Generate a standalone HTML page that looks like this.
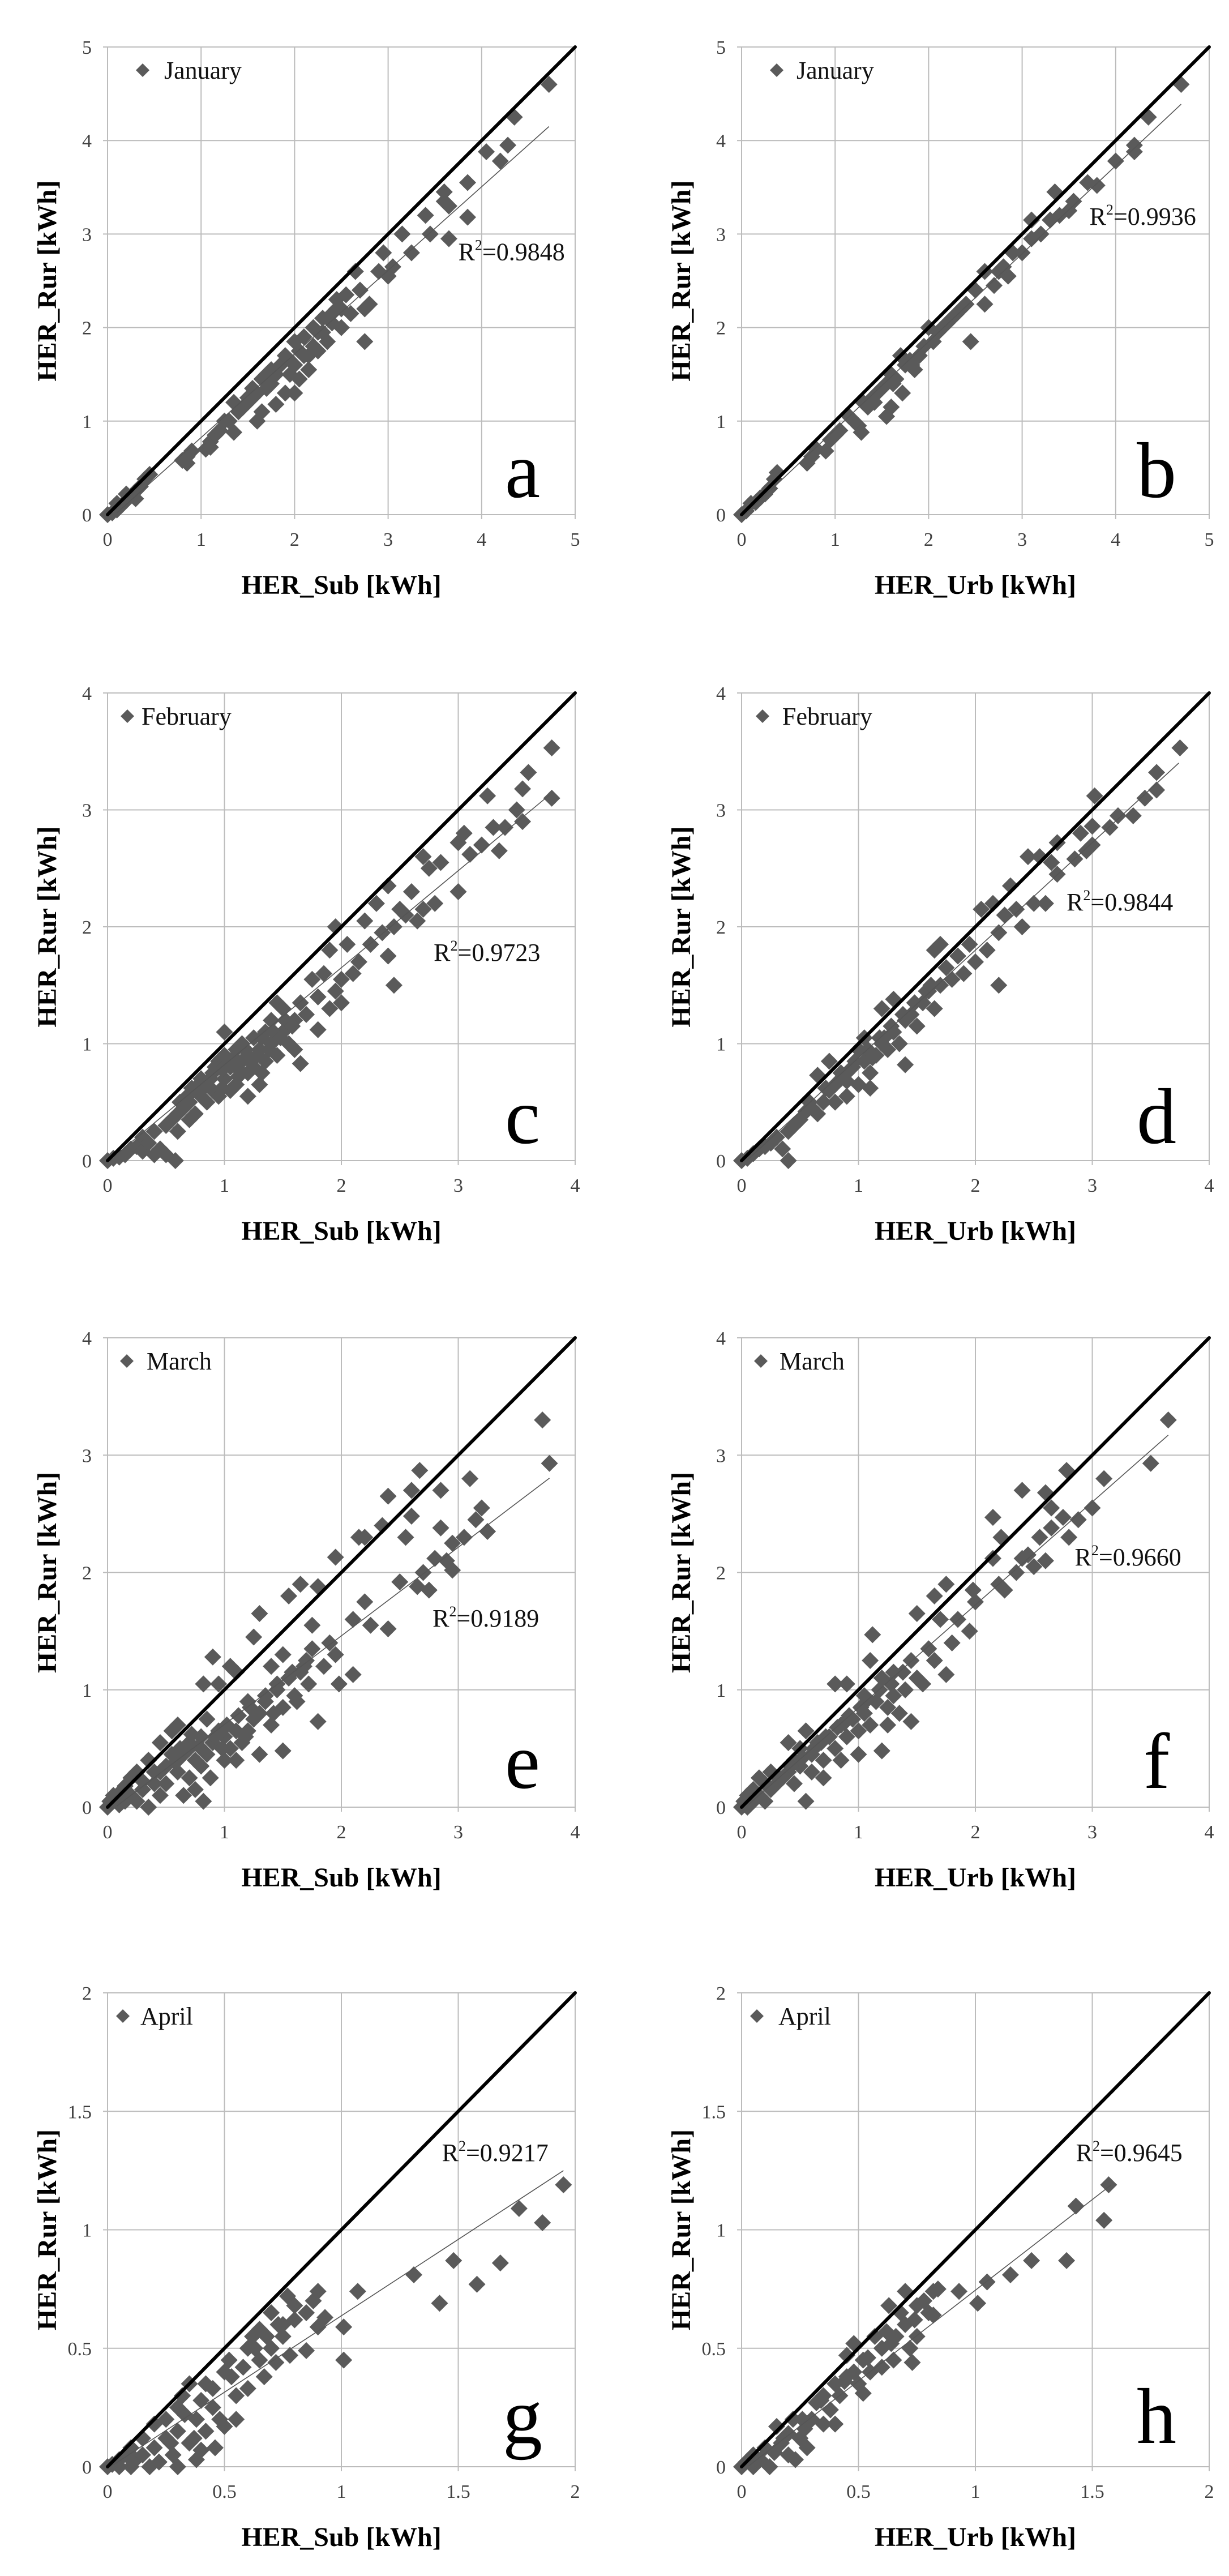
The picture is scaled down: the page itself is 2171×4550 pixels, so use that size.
<!DOCTYPE html>
<html><head><meta charset="utf-8">
<style>
html,body{margin:0;padding:0;background:#fff;}
svg{display:block;}
text{font-family:"Liberation Serif",serif;}
</style></head>
<body>
<svg id="fig" width="2171" height="4550" viewBox="0 0 2171 4550" xmlns="http://www.w3.org/2000/svg" font-family="Liberation Serif, serif"></svg>
<script>
// ---- data (x, y pairs in kWh) ----
const janSubX=[0,0.05,0.1,0.15,0.2,0.25,0.3,0.35,0.4,0.45,0.2,0.3,0.1,0.8,0.85,0.9,0.85,1.05,1.1,1.15,1.1,1.2,1.3,1.35,1.4,1.35,1.45,1.5,1.55,1.6,1.6,1.65,1.65,1.7,1.75,1.8,1.8,1.85,1.9,1.9,1.95,2.0,2.0,2.0,2.05,2.1,2.1,2.15,2.2,2.2,2.25,2.3,2.35,2.4,2.45,2.5,2.5,2.55,2.6,2.65,2.7,2.75,2.75,2.8,2.9,2.95,3.0,3.05,3.15,3.25,3.4,3.45,3.6,3.6,3.65,3.65,3.85,3.85,4.05,4.2,4.28,4.35,4.72,1.25,1.5,1.7,1.95,2.15,2.3,2.45,1.55,1.75,2.05,2.25,2.4];
const janSubY=[0,0.02,0.05,0.1,0.15,0.2,0.25,0.3,0.38,0.43,0.22,0.17,0.12,0.58,0.62,0.68,0.55,0.7,0.78,0.85,0.72,0.9,1.0,0.88,1.1,1.2,1.15,1.2,1.25,1.3,1.0,1.1,1.45,1.35,1.4,1.5,1.18,1.6,1.7,1.3,1.5,1.6,1.3,1.85,1.45,1.7,1.9,1.55,1.8,2.0,1.75,1.95,1.85,2.05,2.3,2.2,2.0,2.35,2.15,2.6,2.4,2.2,1.85,2.25,2.6,2.8,2.55,2.65,3.0,2.8,3.2,3.0,3.35,3.45,3.3,2.95,3.55,3.18,3.88,3.78,3.95,4.25,4.6,1.0,1.25,1.5,1.65,1.7,2.1,2.2,1.35,1.55,1.75,1.95,2.15];
const janUrbX=[0,0.05,0.1,0.15,0.2,0.25,0.3,0.35,0.38,0.7,0.75,0.8,0.9,0.95,1.0,1.05,1.15,1.2,1.25,1.28,1.3,1.35,1.4,1.45,1.5,1.55,1.55,1.6,1.6,1.65,1.7,1.72,1.75,1.8,1.85,1.9,1.95,2.0,2.05,2.1,2.15,2.2,2.3,2.35,2.4,2.45,2.5,2.6,2.6,2.7,2.75,2.85,2.9,3.0,3.1,3.1,3.2,3.3,3.35,3.4,3.5,3.55,3.7,3.8,4.0,4.2,4.2,4.35,4.7,1.42,1.62,1.82,2.25,2.8];
const janUrbY=[0,0.04,0.12,0.13,0.18,0.22,0.28,0.38,0.45,0.55,0.62,0.7,0.68,0.8,0.85,0.9,1.05,1.0,0.95,0.88,1.2,1.15,1.25,1.3,1.35,1.05,1.4,1.15,1.5,1.45,1.7,1.3,1.6,1.65,1.55,1.7,1.8,2.0,1.85,1.95,2.0,2.05,2.15,2.2,2.25,1.85,2.4,2.25,2.6,2.45,2.6,2.55,2.8,2.8,2.95,3.15,3.0,3.15,3.45,3.2,3.25,3.35,3.55,3.52,3.78,3.88,3.95,4.25,4.6,1.2,1.4,1.6,2.1,2.65];
const febSubX=[0,0.05,0.1,0.15,0.2,0.25,0.3,0.3,0.35,0.4,0.4,0.45,0.5,0.5,0.55,0.58,0.6,0.6,0.65,0.7,0.7,0.75,0.75,0.8,0.8,0.85,0.85,0.9,0.9,0.95,0.95,1.0,1.0,1.0,1.05,1.05,1.1,1.1,1.15,1.15,1.2,1.2,1.2,1.25,1.25,1.3,1.3,1.35,1.35,1.4,1.4,1.45,1.45,1.5,1.5,1.55,1.6,1.6,1.65,1.65,1.7,1.75,1.8,1.8,1.85,1.9,1.9,1.95,1.95,2.0,2.0,2.05,2.1,2.15,2.2,2.25,2.3,2.35,2.4,2.4,2.45,2.45,2.5,2.55,2.6,2.65,2.7,2.7,2.75,2.8,2.85,3.0,3.0,3.05,3.1,3.2,3.25,3.3,3.35,3.4,3.5,3.55,3.55,3.6,3.8,3.8,0.62,0.68,0.72,0.78,0.88,0.92,0.98,1.02,1.08,1.12,1.18,1.22,1.28,1.32,1.38,1.42,1.48,1.52,1.58,0.82,0.98,1.12,1.32];
const febSubY=[0,0.02,0.03,0.05,0.1,0.12,0.2,0.08,0.15,0.05,0.25,0.1,0.3,0.05,0.35,0.0,0.4,0.25,0.45,0.5,0.35,0.6,0.4,0.55,0.7,0.5,0.65,0.75,0.6,0.55,0.85,1.1,0.7,0.9,0.6,0.8,0.95,0.65,0.85,1.0,0.75,0.9,0.55,1.05,0.8,0.95,0.65,1.1,0.85,1.0,1.2,0.9,1.35,1.1,1.3,1.0,1.2,0.95,0.83,1.35,1.25,1.55,1.4,1.12,1.6,1.3,1.8,1.45,2.0,1.55,1.35,1.85,1.6,1.7,2.05,1.85,2.2,1.95,2.35,1.75,1.5,2.0,2.15,2.1,2.3,2.05,2.6,2.15,2.5,2.2,2.55,2.3,2.72,2.8,2.62,2.7,3.12,2.85,2.65,2.85,3.0,2.9,3.18,3.32,3.1,3.53,0.5,0.55,0.62,0.65,0.7,0.8,0.78,0.82,0.88,0.78,0.95,0.85,0.9,1.05,0.95,1.1,1.05,1.2,1.15,0.62,0.62,0.72,0.75];
const febUrbX=[0,0.05,0.1,0.15,0.2,0.25,0.3,0.35,0.4,0.4,0.45,0.5,0.55,0.6,0.65,0.65,0.7,0.75,0.75,0.8,0.8,0.85,0.9,0.9,0.95,1.0,1.0,1.05,1.05,1.1,1.1,1.15,1.2,1.2,1.25,1.3,1.3,1.35,1.4,1.4,1.45,1.5,1.55,1.6,1.65,1.65,1.7,1.7,1.75,1.8,1.85,1.9,1.95,2.0,2.05,2.1,2.15,2.2,2.2,2.25,2.3,2.35,2.4,2.45,2.5,2.55,2.6,2.65,2.7,2.7,2.85,2.9,2.95,3.0,3.0,3.02,3.15,3.22,3.35,3.45,3.55,3.55,3.75,0.58,0.72,0.85,0.97,1.08,1.18,1.28,1.38,1.48,1.58,1.62,0.9,1.12,1.22];
const febUrbY=[0,0.02,0.06,0.1,0.12,0.15,0.2,0.1,0.0,0.25,0.3,0.35,0.42,0.45,0.4,0.73,0.5,0.6,0.85,0.5,0.65,0.7,0.75,0.55,0.8,0.95,0.65,0.85,1.05,0.75,0.62,0.9,1.0,1.3,0.95,1.1,1.38,1.0,0.82,1.2,1.25,1.15,1.35,1.45,1.3,1.8,1.5,1.85,1.65,1.55,1.75,1.6,1.85,1.7,2.15,1.8,2.2,1.5,1.95,2.1,2.35,2.15,2.0,2.6,2.2,2.6,2.2,2.55,2.45,2.72,2.58,2.8,2.65,2.7,2.86,3.12,2.85,2.95,2.95,3.1,3.17,3.32,3.53,0.5,0.62,0.75,0.85,0.95,1.05,1.15,1.25,1.35,1.45,1.5,0.68,0.88,1.05];
const marSubX=[0,0.02,0.05,0.1,0.1,0.15,0.15,0.2,0.2,0.25,0.25,0.3,0.35,0.35,0.4,0.4,0.45,0.45,0.5,0.5,0.55,0.55,0.6,0.6,0.65,0.65,0.7,0.7,0.75,0.75,0.8,0.8,0.82,0.82,0.85,0.85,0.88,0.9,0.9,0.95,0.95,1.0,1.0,1.05,1.05,1.1,1.1,1.1,1.15,1.2,1.2,1.25,1.25,1.3,1.3,1.3,1.35,1.4,1.4,1.45,1.5,1.5,1.5,1.55,1.55,1.6,1.65,1.65,1.7,1.75,1.75,1.8,1.8,1.85,1.9,1.95,1.95,1.98,2.1,2.1,2.15,2.2,2.2,2.25,2.35,2.4,2.4,2.5,2.55,2.6,2.6,2.65,2.67,2.7,2.75,2.8,2.85,2.85,2.9,2.95,2.95,3.05,3.1,3.15,3.2,3.25,3.72,3.78,0.3,0.45,0.58,0.68,0.78,0.92,1.02,1.12,1.22,1.35,1.45,1.58,1.68,1.72,0.62,0.72,0.98,1.18,1.42,1.62];
const marSubY=[0,0.05,0.1,0.02,0.12,0.05,0.18,0.1,0.25,0.05,0.3,0.15,0.0,0.4,0.2,0.3,0.55,0.1,0.35,0.2,0.45,0.65,0.3,0.7,0.1,0.45,0.55,0.25,0.4,0.15,0.6,0.35,0.05,1.05,0.45,0.75,0.25,0.55,1.28,0.65,1.05,0.4,0.6,0.5,1.2,1.15,0.65,0.4,0.55,0.9,0.65,1.45,0.75,0.45,1.65,0.8,0.9,0.7,1.2,1.0,0.48,0.85,1.3,1.8,1.1,0.95,1.9,1.15,1.25,1.35,1.55,0.73,1.88,1.2,1.4,2.13,1.3,1.05,1.13,1.6,2.3,1.75,2.3,1.55,2.4,2.65,1.52,1.92,2.3,2.7,2.48,1.88,2.87,2.0,1.85,2.12,2.7,2.38,2.1,2.02,2.25,2.3,2.8,2.45,2.55,2.35,3.3,2.93,0.22,0.3,0.38,0.48,0.52,0.6,0.7,0.78,0.85,0.95,1.05,1.15,1.2,1.05,0.5,0.62,0.5,0.6,0.8,0.9];
const marUrbX=[0,0.02,0.05,0.05,0.1,0.1,0.15,0.15,0.2,0.2,0.25,0.25,0.3,0.35,0.4,0.4,0.45,0.45,0.5,0.5,0.55,0.55,0.6,0.6,0.65,0.7,0.7,0.75,0.8,0.8,0.85,0.85,0.9,0.9,0.95,1.0,1.0,1.05,1.05,1.1,1.1,1.12,1.15,1.2,1.2,1.25,1.25,1.3,1.3,1.35,1.4,1.45,1.45,1.5,1.5,1.55,1.6,1.65,1.65,1.7,1.75,1.75,1.8,1.85,1.95,1.98,2.0,2.15,2.15,2.2,2.22,2.25,2.35,2.4,2.4,2.45,2.5,2.55,2.6,2.6,2.65,2.65,2.75,2.78,2.8,2.88,3.0,3.1,3.5,3.65,0.32,0.42,0.52,0.62,0.72,0.82,0.92,1.02,1.08,1.18,1.28,1.38,0.68,0.88];
const marUrbY=[0,0.05,0.1,0.0,0.05,0.15,0.1,0.25,0.05,0.2,0.15,0.3,0.2,0.25,0.3,0.55,0.2,0.4,0.35,0.5,0.65,0.05,0.45,0.3,0.55,0.4,0.25,0.6,1.05,0.5,0.7,0.4,0.6,1.05,0.75,0.45,0.65,0.95,0.8,1.25,0.7,1.47,0.9,0.48,1.1,0.85,0.7,1.15,0.95,0.8,1.0,1.25,0.73,1.1,1.65,1.05,1.35,1.8,1.25,1.6,1.9,1.13,1.4,1.6,1.5,1.85,1.75,2.47,2.12,1.9,2.3,1.85,2.0,2.7,2.12,2.15,2.05,2.3,2.68,2.1,2.55,2.38,2.47,2.87,2.3,2.45,2.55,2.8,2.93,3.3,0.25,0.35,0.42,0.5,0.6,0.68,0.78,0.85,0.92,1.0,1.05,1.15,0.55,0.72];
const aprSubX=[0,0.02,0.05,0.05,0.08,0.1,0.1,0.12,0.15,0.15,0.18,0.2,0.2,0.22,0.25,0.25,0.28,0.3,0.3,0.3,0.32,0.35,0.35,0.38,0.38,0.4,0.4,0.42,0.45,0.45,0.46,0.48,0.5,0.5,0.52,0.55,0.55,0.58,0.6,0.6,0.62,0.65,0.65,0.67,0.7,0.7,0.72,0.75,0.75,0.77,0.78,0.8,0.85,0.85,0.88,0.9,0.9,0.93,1.01,1.01,1.07,1.31,1.42,1.48,1.58,1.68,1.76,1.86,1.95,0.33,0.42,0.53,0.63,0.68,0.73,0.8,0.27,0.37];
const aprSubY=[0,0.01,0.0,0.03,0.05,0.0,0.08,0.03,0.05,0.12,0.0,0.08,0.18,0.02,0.12,0.2,0.05,0.0,0.15,0.25,0.3,0.1,0.35,0.03,0.2,0.07,0.28,0.15,0.25,0.33,0.08,0.2,0.17,0.4,0.45,0.2,0.3,0.42,0.33,0.5,0.55,0.45,0.58,0.38,0.5,0.65,0.44,0.55,0.6,0.72,0.47,0.68,0.49,0.65,0.7,0.74,0.59,0.63,0.59,0.45,0.74,0.81,0.69,0.87,0.77,0.86,1.09,1.03,1.19,0.22,0.35,0.38,0.5,0.55,0.6,0.62,0.1,0.12];
const aprUrbX=[0,0.02,0.05,0.05,0.08,0.1,0.12,0.14,0.15,0.17,0.2,0.2,0.22,0.23,0.25,0.27,0.28,0.3,0.32,0.35,0.35,0.38,0.4,0.4,0.42,0.45,0.45,0.48,0.48,0.5,0.52,0.52,0.55,0.57,0.6,0.6,0.62,0.63,0.65,0.66,0.68,0.7,0.7,0.72,0.73,0.75,0.75,0.78,0.8,0.82,0.82,0.84,0.93,1.01,1.05,1.15,1.24,1.39,1.43,1.55,1.57,0.18,0.26,0.34,0.44,0.54,0.64,0.74];
const aprUrbY=[0,0.02,0.0,0.05,0.03,0.08,0.0,0.06,0.17,0.1,0.05,0.14,0.2,0.03,0.12,0.16,0.08,0.2,0.27,0.18,0.3,0.24,0.18,0.35,0.3,0.38,0.47,0.4,0.52,0.35,0.45,0.31,0.4,0.55,0.5,0.42,0.57,0.68,0.45,0.55,0.65,0.74,0.6,0.5,0.44,0.55,0.68,0.7,0.65,0.64,0.74,0.75,0.74,0.69,0.78,0.81,0.87,0.87,1.1,1.04,1.19,0.12,0.2,0.28,0.36,0.46,0.52,0.62];
// axis maxima, tick steps, fit (slope, intercept, x-start, x-end), R² labels
const axisMax=[5,5,4,4,4,4,2,2];
const tickStep=[1,1,1,1,1,1,0.5,0.5];
const fitSlope=[0.894,0.94,0.83,0.92,0.755,0.877,0.645,0.765];
const fitIntercept=[-0.07,-0.03,-0.01,-0.04,-0.05,-0.03,-0.008,-0.02];
const fitXStart=[0.1,0.04,0.08,0.05,0.08,0.06,0.025,0.03];
const fitXEnd=[4.72,4.7,3.78,3.74,3.78,3.65,1.95,1.58];
const r2Labels=["0.9848","0.9936","0.9723","0.9844","0.9189","0.9660","0.9217","0.9645"];
const r2LabelX=[3.75,3.72,2.79,2.78,2.78,2.85,1.43,1.43];
const r2LabelY=[2.72,3.1,1.71,2.14,1.54,2.06,1.29,1.29];
const months=["January","January","February","February","March","March","April","April"];
const panelLetters=["a","b","c","d","e","f","g","h"];
const xTitles=["HER_Sub [kWh]","HER_Urb [kWh]"];
const seriesX=[janSubX,janUrbX,febSubX,febUrbX,marSubX,marUrbX,aprSubX,aprUrbX];
const seriesY=[janSubY,janUrbY,febSubY,febUrbY,marSubY,marUrbY,aprSubY,aprUrbY];

// ---- layout ----
const NS="http://www.w3.org/2000/svg";
const svg=document.getElementById('fig');
const colLeft=[190,1310];
const rowTop=[83,1224,2363,3520];
const rowH=[826,826,829,837];
const plotW=826;
const FONT='Liberation Serif, serif';
const legendOff=[[62,100],[62,97],[35,60],[37,72],[34,69],[34,67],[27,58],[27,65]];
function mk(tag,attrs,parent){const e=document.createElementNS(NS,tag);for(const k in attrs)e.setAttribute(k,attrs[k]);(parent||svg).appendChild(e);return e;}
function diamond(cx,cy,r){return `M${cx},${cy-r}L${cx+r},${cy}L${cx},${cy+r}L${cx-r},${cy}Z`;}

for(let p=0;p<8;p++){
  const col=p%2,row=Math.floor(p/2);
  const L=colLeft[col],T=rowTop[row],H=rowH[row],W=plotW,B=T+H,R=L+W;
  const mx=axisMax[p];
  const sx=v=>L+v/mx*W, sy=v=>B-v/mx*H;
  const g=mk('g',{});
  
  
  const grid=mk('g',{},g);
  
  
  const n=Math.round(mx/tickStep[p]);
  for(let i=0;i<=n;i++){
    const v=i*tickStep[p];
    mk('line',{x1:sx(v),x2:sx(v),y1:T,y2:B+8,stroke:'#bcbcbc','stroke-width':2},grid);
    mk('line',{x1:L-8,x2:R,y1:sy(v),y2:sy(v),stroke:'#bcbcbc','stroke-width':2},grid);
    const lab=String(v);
    const tx=mk('text',{x:sx(v),y:B+55,'text-anchor':'middle','font-size':34,'font-family':FONT,fill:'#404040'},g);
    tx.textContent=lab;
    
    
    const ty=mk('text',{x:L-28,y:sy(v)+12,'text-anchor':'end','font-size':34,'font-family':FONT,fill:'#404040'},g);
    ty.textContent=lab;
    
    
  }
  const pts=mk('g',{fill:'#5a5a5a'},g);
  
  
  const xs=seriesX[p],ys=seriesY[p];
  for(let i=0;i<xs.length;i++){
    const d=mk('path',{d:diamond(sx(xs[i]),sy(ys[i]),15)},pts);
    
    
  }
  const one=mk('line',{x1:sx(0),y1:sy(0),x2:sx(mx),y2:sy(mx),stroke:'#000','stroke-width':6,'stroke-linecap':'round'},g);
  
  
  const x0=fitXStart[p],x1=fitXEnd[p];
  const fit=mk('line',{x1:sx(x0),y1:sy(fitSlope[p]*x0+fitIntercept[p]),x2:sx(x1),y2:sy(fitSlope[p]*x1+fitIntercept[p]),stroke:'#555','stroke-width':1.6},g);
  
  
  const r2=mk('text',{x:sx(r2LabelX[p]),y:sy(r2LabelY[p]),'font-size':44,'font-family':FONT,fill:'#111'},g);
  
  
  r2.innerHTML='R<tspan font-size="26" dy="-18">2</tspan><tspan dy="18">=</tspan>'+r2Labels[p];
  const lg=mk('g',{},g);
  
  
  mk('path',{d:diamond(L+legendOff[p][0],T+41,12),fill:'#5a5a5a'},lg);
  const lt=mk('text',{x:L+legendOff[p][1],y:T+56,'font-size':44,'font-family':FONT,fill:'#111'},lg);
  lt.textContent=months[p];
  const pl=mk('text',{x:L+733,y:T+795,'text-anchor':'middle','font-size':140,'font-family':FONT,fill:'#000'},g);
  pl.textContent=panelLetters[p];
  
  
  const xt=mk('text',{x:L+W/2,y:B+140,'text-anchor':'middle','font-size':48,'font-weight':'bold','font-family':FONT,fill:'#000'},g);
  xt.textContent=xTitles[col];
  
  
  const yx=L-91, yy=T+H/2;
  const yt=mk('text',{x:yx,y:yy,'text-anchor':'middle','font-size':48,'font-weight':'bold','font-family':FONT,fill:'#000',transform:`rotate(-90 ${yx} ${yy})`},g);
  yt.textContent='HER_Rur [kWh]';
  
  
}
</script>
</body></html>
